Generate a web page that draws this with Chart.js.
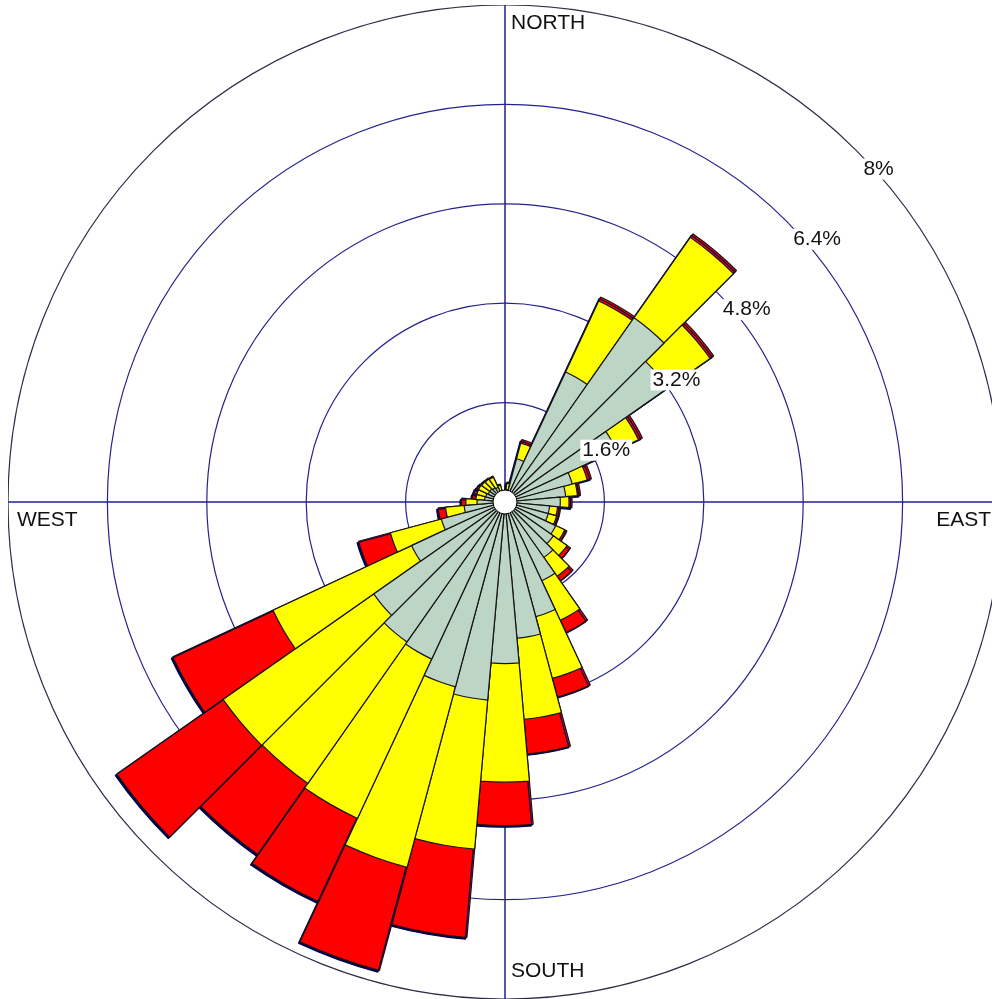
<!DOCTYPE html>
<html>
<head>
<meta charset="utf-8">
<title>Wind rose</title>
<script src="https://cdn.jsdelivr.net/npm/chart.js@4.4.0/dist/chart.umd.min.js"></script>
<style>
  html, body { margin: 0; padding: 0; background: #fff; overflow: hidden; width: 992px; height: 999px; }
  #wrap { position: absolute; left: 8px; top: 5px; width: 994px; height: 994px; }
</style>
</head>
<body>
<div id="wrap"><canvas id="rose"></canvas></div>
<script>
// direction sectors, degrees clockwise from north
const directions = [0, 10, 20, 30, 40, 50, 60, 70, 80, 90, 100, 110,
                    120, 130, 140, 150, 160, 170, 180, 190, 200, 210, 220, 230,
                    240, 250, 260, 270, 280, 290, 300, 310, 320, 330, 340, 350];

// frequency (%) in each band
const lowBand  = [0.10, 0.20, 0.72, 2.31, 3.62, 3.20, 1.98, 1.12, 0.98, 0.89, 0.72, 0.72,
                  0.90, 0.95, 1.09, 1.40, 1.91, 2.20, 2.60, 3.20, 3.08, 2.79, 2.75, 2.58,
                  1.66, 1.06, 0.66, 0.45, 0.33, 0.32, 0.30, 0.30, 0.28, 0.26, 0.18, 0.10];
const midBand  = [0.02, 0.10, 0.26, 1.26, 1.58, 0.83, 0.39, 0.25, 0.19, 0.14, 0.13, 0.14,
                  0.16, 0.27, 0.37, 0.70, 1.03, 1.31, 1.91, 2.41, 3.01, 2.83, 2.78, 2.96,
                  2.46, 0.85, 0.30, 0.18, 0.14, 0.15, 0.17, 0.16, 0.17, 0.18, 0.10, 0.02];
const highBand = [0.00, 0.02, 0.06, 0.07, 0.07, 0.07, 0.07, 0.07, 0.05, 0.05, 0.05, 0.04,
                  0.04, 0.07, 0.09, 0.22, 0.31, 0.56, 0.70, 1.43, 1.72, 1.48, 1.40, 2.09,
                  1.78, 0.53, 0.12, 0.07, 0.06, 0.05, 0.03, 0.02, 0.02, 0.02, 0.02, 0.00];

const tickValues = [1.6, 3.2, 4.8, 6.4, 8];
const tickLabels = ['1.6%', '3.2%', '4.8%', '6.4%', '8%'];
const compassLabels = ['NORTH', 'EAST', 'SOUTH', 'WEST'];

const NAVY = '#22228c';
const FONT = '"Liberation Sans", Arial, sans-serif';

// stacked rose: each ring drawn as a cumulative polar area
const lowTop = lowBand.slice();
const midTop = lowBand.map((v, i) => v + midBand[i]);
const highTop = midTop.map((v, i) => v + highBand[i]);

const roseDecor = {
  id: 'roseDecor',
  beforeDatasetsDraw(chart) {
    const r = chart.scales.r;
    const ctx = chart.ctx;
    const cx = r.xCenter, cy = r.yCenter, R = r.drawingArea;
    ctx.save();
    ctx.strokeStyle = NAVY;
    ctx.lineWidth = 1.5;
    ctx.beginPath();
    ctx.moveTo(cx, cy - R); ctx.lineTo(cx, cy + R);
    ctx.moveTo(cx - R, cy); ctx.lineTo(cx + R, cy);
    ctx.stroke();
    ctx.restore();
  },
  beforeDatasetDraw(chart, args) {
    if (args.index !== 2) return;
    const ctx = chart.ctx;
    ctx.save();
    ctx.shadowColor = '#000050';
    ctx.shadowOffsetX = -1.5;
    ctx.shadowOffsetY = 1.5;
    ctx.shadowBlur = 0;
  },
  afterDatasetDraw(chart, args) {
    if (args.index === 2) chart.ctx.restore();
  },
  afterDatasetsDraw(chart) {
    const r = chart.scales.r;
    const ctx = chart.ctx;
    const cx = r.xCenter, cy = r.yCenter, R = r.drawingArea;
    ctx.save();

    // calm hub
    ctx.beginPath();
    ctx.arc(cx, cy, 12, 0, Math.PI * 2);
    ctx.fillStyle = '#fff';
    ctx.fill();
    ctx.lineWidth = 1;
    ctx.strokeStyle = '#000';
    ctx.stroke();

    // ring labels along the NE diagonal
    ctx.font = '21px ' + FONT;
    ctx.textAlign = 'left';
    ctx.textBaseline = 'middle';
    tickValues.forEach((v, i) => {
      const d = r.getDistanceFromCenterForValue(v);
      const px = cx + d * Math.SQRT1_2;
      const py = cy - d * Math.SQRT1_2;
      const w = ctx.measureText(tickLabels[i]).width;
      ctx.fillStyle = '#fff';
      ctx.fillRect(px + 5, py + 8, w + 4, 21);
      ctx.fillStyle = '#111';
      ctx.fillText(tickLabels[i], px + 7, py + 18.5);
    });

    // compass labels
    ctx.fillStyle = '#111';
    ctx.textAlign = 'left';
    ctx.fillText(compassLabels[0], cx + 6, cy - R + 18);
    ctx.fillText(compassLabels[2], cx + 6, cy + R - 28);
    ctx.fillText(compassLabels[3], cx - R + 9, cy + 18);
    ctx.textAlign = 'right';
    ctx.fillText(compassLabels[1], cx + R - 11, cy + 18);
    ctx.restore();
  }
};

new Chart(document.getElementById('rose'), {
  type: 'polarArea',
  data: {
    labels: directions.map(d => d + '°'),
    datasets: [
      { label: 'low', data: lowTop, backgroundColor: '#bcd5c5' },
      { label: 'mid', data: midTop, backgroundColor: '#ffff00' },
      { label: 'high', data: highTop, backgroundColor: '#ff0000' }
    ]
  },
  options: {
    responsive: true,
    maintainAspectRatio: false,
    animation: false,
    layout: { padding: 0 },
    elements: { arc: { borderWidth: 1.2, borderColor: '#151515' } },
    plugins: { legend: { display: false }, tooltip: { enabled: false } },
    scales: {
      r: {
        min: 0,
        max: 8,
        startAngle: -5,
        ticks: { display: false, stepSize: 1.6 },
        grid: {
          circular: true,
          lineWidth: 1.2,
          color: c => (c.tick && c.tick.value === 8) ? '#2e2e48' : NAVY
        },
        angleLines: { display: false },
        pointLabels: { display: false }
      }
    }
  },
  plugins: [roseDecor]
});
</script>
</body>
</html>
